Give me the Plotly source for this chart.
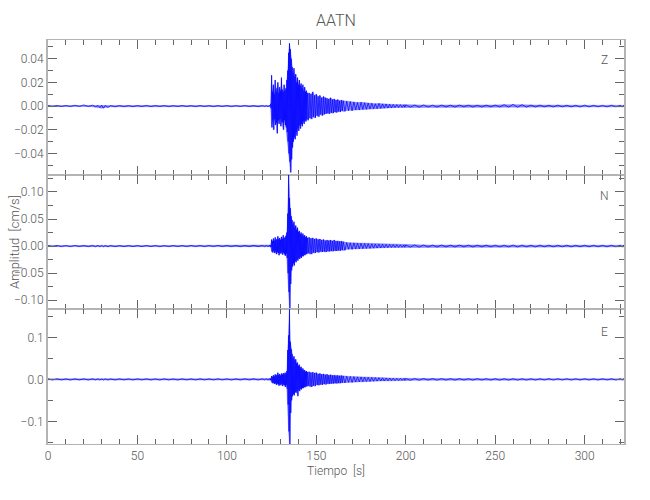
import plotly.graph_objects as go
from plotly.subplots import make_subplots

# ---- time knots (s) ----
t_pre = [0, 5, 10, 15, 20, 25, 28, 30, 32, 35, 40, 45, 50, 55, 60, 65, 70, 75, 80, 85,
         90, 95, 100, 105, 110, 115, 120, 122, 124]
t_event = [124.5, 125, 125.5, 126, 126.5, 127, 127.5, 128, 128.5, 129, 129.5, 130, 130.5,
           131, 131.5, 132, 132.5, 133, 133.5, 134, 134.5, 135, 135.5, 136, 136.5, 137,
           137.5, 138, 138.5, 139, 139.5, 140, 140.5, 141, 141.5, 142, 142.5, 143, 143.5,
           144, 144.5, 145]
t_mid = [146, 147, 148, 149, 150, 151, 152, 153, 154, 155, 156, 157, 158, 159, 160, 161,
         162, 163, 164, 165]
t_late = [167, 169, 171, 173, 175, 177, 179, 181, 183, 185, 187, 189, 191, 193, 195, 197, 199]
t_tail = [200, 205, 210, 215, 220, 225, 230, 235, 240, 245, 250, 255, 260, 265, 270, 275,
          280, 285, 290, 295, 300, 305, 310, 315, 320, 322]

# ---- Z component envelope (cm/s): upper / lower peaks per knot ----
z_up_pre = [.0004, .0004, .0005, .0007, .001, .0008, .0005, .0008, .0006, .0004, .0005, .0004,
            .0005, .0006, .0005, .0005, .0004, .0005, .0004, .0005, .0004, .0004, .0005, .0004,
            .0005, .0004, .0005, .0004, .0005]
z_lo_pre = [-.0004, -.0004, -.0004, -.0003, -.0003, -.0006, -.0012, -.0018, -.0012, -.0006,
            -.0005, -.0005, -.0004, -.0005, -.0004, -.0005, -.0004, -.0004, -.0005, -.0004,
            -.0005, -.0004, -.0005, -.0004, -.0004, -.0005, -.0004, -.0005, -.0004]
z_up_event = [.002, .026, .012, .018, .010, .022, .012, .015, .020, .011, .016, .013, .024,
              .014, .012, .018, .013, .015, .022, .030, .045, .053, .048, .040, .033, .028,
              .032, .025, .027, .020, .024, .018, .022, .017, .019, .015, .018, .013, .016,
              .012, .013, .011]
z_lo_event = [-.002, -.018, -.012, -.020, -.011, -.016, -.014, -.023, -.012, -.015, -.011,
              -.017, -.013, -.014, -.020, -.012, -.016, -.018, -.022, -.030, -.040, -.047,
              -.056, -.045, -.035, -.030, -.026, -.028, -.022, -.025, -.019, -.021, -.016,
              -.019, -.015, -.017, -.013, -.015, -.012, -.013, -.011, -.012]
z_up_mid = [.011, .010, .012, .009, .010, .008, .009, .007, .008, .007, .0065, .006, .007,
            .0055, .006, .005, .0055, .0045, .005, .0045]
z_lo_mid = [-.010, -.011, -.009, -.010, -.008, -.009, -.007, -.008, -.007, -.0065, -.006,
            -.0065, -.0055, -.006, -.005, -.0055, -.0045, -.005, -.004, -.0045]
z_up_late = [.004, .0038, .0035, .003, .0032, .0028, .0025, .0024, .002, .0022, .0018, .0017,
             .0015, .0014, .0013, .0012, .0011]
z_lo_late = [-.0038, -.004, -.0032, -.0033, -.0028, -.0027, -.0024, -.0022, -.0021, -.0019,
             -.0017, -.0016, -.0015, -.0013, -.0012, -.0011, -.001]
z_up_tail = [.001, .0009, .001, .0008, .0009, .0008, .0009, .0008, .0007, .0008, .0009, .0012,
             .0015, .0012, .0009, .0008, .0007, .0008, .0007, .0007, .0008, .0007, .0006,
             .0007, .0006, .0006]
z_lo_tail = [-.0009, -.001, -.0008, -.0009, -.0008, -.0009, -.0007, -.0008, -.0008, -.0007,
             -.0008, -.0009, -.0010, -.0009, -.0008, -.0007, -.0008, -.0007, -.0007, -.0008,
             -.0007, -.0006, -.0007, -.0006, -.0006, -.0006]

# ---- N component ----
n_up_pre = [.001, .0011, .001, .0012, .0013, .0012, .0014, .0016, .0013, .0011, .001, .0011,
            .001, .0012, .0011, .001, .0011, .001, .0012, .0011, .001, .0011, .0012, .0011,
            .001, .0012, .0011, .0012, .0013]
n_lo_pre = [-.001, -.0011, -.0012, -.001, -.0011, -.0013, -.0015, -.0017, -.0014, -.0012,
            -.0011, -.001, -.0011, -.001, -.0012, -.0011, -.001, -.0011, -.001, -.0012,
            -.0011, -.001, -.0011, -.0012, -.0011, -.001, -.0012, -.0011, -.0012]
n_up_event = [.002, .012, .009, .014, .010, .016, .011, .013, .018, .012, .015, .011, .017,
              .013, .020, .014, .016, .019, .025, .060, .132, .089, .070, .055, .048, .040,
              .045, .035, .038, .030, .034, .026, .028, .022, .025, .020, .023, .018, .020,
              .016, .018, .015]
n_lo_event = [-.002, -.010, -.012, -.009, -.013, -.010, -.015, -.011, -.013, -.017, -.012,
              -.014, -.011, -.016, -.012, -.015, -.018, -.014, -.022, -.050, -.085, -.117,
              -.070, -.045, -.038, -.032, -.036, -.028, -.030, -.025, -.027, -.022, -.024,
              -.020, -.022, -.018, -.019, -.016, -.017, -.014, -.015, -.013]
n_up_mid = [.016, .014, .015, .013, .014, .012, .013, .011, .012, .010, .011, .010, .011,
            .0095, .011, .009, .0095, .0085, .009, .008]
n_lo_mid = [-.014, -.015, -.012, -.013, -.011, -.012, -.010, -.011, -.010, -.011, -.0095,
            -.010, -.009, -.0095, -.0085, -.009, -.008, -.0085, -.0075, -.008]
n_up_late = [.0065, .006, .0058, .0055, .005, .0048, .0045, .004, .0038, .0035, .0033, .003,
             .0028, .0026, .0025, .0023, .0022]
n_lo_late = [-.006, -.0062, -.0055, -.0052, -.0049, -.0045, -.0043, -.0039, -.0036, -.0034,
             -.0031, -.0029, -.0027, -.0025, -.0024, -.0022, -.0021]
n_up_tail = [.002, .0019, .0021, .0018, .002, .0017, .0019, .0018, .0017, .0018, .0017, .0016,
             .0019, .0017, .0016, .0017, .0016, .0015, .0016, .0015, .0016, .0015, .0014,
             .0015, .0014, .0014]
n_lo_tail = [-.0019, -.002, -.0018, -.0019, -.0017, -.0018, -.0017, -.0018, -.0016, -.0017,
             -.0016, -.0017, -.0018, -.0016, -.0017, -.0015, -.0016, -.0015, -.0016, -.0014,
             -.0015, -.0014, -.0015, -.0014, -.0014, -.0014]

# ---- E component ----
e_up_pre = [.0014, .0015, .0013, .0015, .0014, .0016, .0015, .0014, .0015, .0013, .0015,
            .0014, .0015, .0016, .0014, .0015, .0013, .0015, .0014, .0015, .0014, .0016,
            .0015, .0014, .0015, .0014, .0016, .0015, .0016]
e_lo_pre = [-.0015, -.0014, -.0015, -.0013, -.0015, -.0014, -.0016, -.0015, -.0014, -.0015,
            -.0013, -.0015, -.0014, -.0015, -.0016, -.0014, -.0015, -.0014, -.0015, -.0013,
            -.0015, -.0014, -.0016, -.0015, -.0014, -.0015, -.0014, -.0015, -.0016]
e_up_event = [.002, .008, .006, .010, .007, .012, .009, .011, .016, .010, .013, .009, .014,
              .011, .015, .012, .016, .014, .020, .070, .105, .167, .090, .072, .060, .050,
              .055, .045, .048, .038, .040, .032, .035, .028, .030, .024, .026, .021, .022,
              .018, .020, .017]
e_lo_event = [-.002, -.007, -.009, -.008, -.011, -.009, -.013, -.010, -.012, -.015, -.011,
              -.014, -.010, -.016, -.012, -.014, -.018, -.013, -.022, -.060, -.124, -.154,
              -.080, -.050, -.040, -.035, -.038, -.030, -.032, -.027, -.040, -.025, -.028,
              -.022, -.024, -.020, -.021, -.018, -.019, -.016, -.017, -.015]
e_up_mid = [.018, .016, .017, .015, .016, .013, .014, .012, .013, .011, .012, .010, .011,
            .0095, .010, .009, .0095, .0085, .009, .008]
e_lo_mid = [-.016, -.018, -.015, -.016, -.013, -.014, -.012, -.013, -.011, -.012, -.010,
            -.011, -.0095, -.010, -.009, -.0095, -.0085, -.009, -.008, -.0085]
e_up_late = [.0075, .007, .0065, .006, .0058, .0054, .005, .0047, .0044, .004, .0038, .0035,
             .0033, .003, .0028, .0026, .0025]
e_lo_late = [-.007, -.0072, -.0062, -.0058, -.0055, -.005, -.0048, -.0044, -.0041, -.0038,
             -.0036, -.0033, -.0031, -.0029, -.0027, -.0025, -.0024]
e_up_tail = [.0022, .002, .0021, .0019, .002, .0018, .0019, .0018, .002, .0018, .0019, .0018,
             .0019, .0017, .0018, .0017, .0018, .0017, .0018, .0016, .0017, .0016, .0017,
             .0016, .0016, .0016]
e_lo_tail = [-.0021, -.0022, -.0019, -.002, -.0018, -.0019, -.0018, -.0019, -.0017, -.0018,
             -.0019, -.0017, -.0018, -.0017, -.0018, -.0016, -.0017, -.0016, -.0017, -.0016,
             -.0016, -.0017, -.0015, -.0016, -.0016, -.0015]

components = ["Z", "N", "E"]
y_ranges = [[-0.0579, 0.0558], [-0.117, 0.132], [-0.154, 0.167]]
y_dticks = [0.02, 0.05, 0.1]
y_minor = [0.01, 0.025, 0.05]
y_formats = [".2f", ".2f", ".1f"]
x_range = [0, 322]

T = t_pre + t_event + t_mid + t_late + t_tail
env = {
    "Z": (z_up_pre + z_up_event + z_up_mid + z_up_late + z_up_tail,
          z_lo_pre + z_lo_event + z_lo_mid + z_lo_late + z_lo_tail),
    "N": (n_up_pre + n_up_event + n_up_mid + n_up_late + n_up_tail,
          n_lo_pre + n_lo_event + n_lo_mid + n_lo_late + n_lo_tail),
    "E": (e_up_pre + e_up_event + e_up_mid + e_up_late + e_up_tail,
          e_lo_pre + e_lo_event + e_lo_mid + e_lo_late + e_lo_tail),
}


def zigzag(t, up, lo):
    xs, ys = [], []
    for i in range(len(t)):
        nxt = t[i + 1] if i + 1 < len(t) else t[i]
        xs += [t[i], (t[i] + nxt) / 2]
        ys += [up[i], lo[i]]
    return xs, ys


FONT = "Roboto, Lato, sans-serif"
TXT = "#555555"
FRAME = "#b4b4b4"
TICK = "#666666"
BLUE = "#0000ff"

fig = make_subplots(rows=3, cols=1, shared_xaxes=True, vertical_spacing=0)

for r, comp in enumerate(components, start=1):
    up, lo = env[comp]
    # envelope band
    fig.add_trace(go.Scatter(x=T + T[::-1], y=up + lo[::-1], mode="lines",
                             fill="toself", fillcolor="rgba(40,40,255,0.55)",
                             line=dict(color="rgba(0,0,255,0.45)", width=0.5),
                             showlegend=False, hoverinfo="skip"), row=r, col=1)
    # oscillation between the peaks
    xs, ys = zigzag(T, up, lo)
    fig.add_trace(go.Scatter(x=xs, y=ys, mode="lines",
                             line=dict(color=BLUE, width=0.7),
                             showlegend=False, hoverinfo="skip"), row=r, col=1)
    fig.update_yaxes(range=y_ranges[r - 1], dtick=y_dticks[r - 1], tick0=0,
                     tickformat=y_formats[r - 1], automargin=False,
                     ticks="inside", ticklen=9, tickwidth=1, tickcolor=TICK,
                     minor=dict(dtick=y_minor[r - 1], tick0=0, ticks="inside",
                                ticklen=5, tickcolor=TICK, showgrid=False),
                     showline=True, linecolor=FRAME, linewidth=2, mirror="ticks",
                     showgrid=False, zeroline=False,
                     tickfont=dict(family=FONT, size=12, color=TXT, weight=300),
                     row=r, col=1)
    fig.update_xaxes(range=x_range, dtick=50, tick0=0, automargin=False,
                     ticks="inside", ticklen=9, tickwidth=1, tickcolor=TICK,
                     minor=dict(dtick=10, tick0=0, ticks="inside", ticklen=5,
                                tickcolor=TICK, showgrid=False),
                     showline=True, linecolor=FRAME, linewidth=1.3, mirror="ticks",
                     showgrid=False, zeroline=False,
                     tickfont=dict(family=FONT, size=12, color=TXT, weight=300),
                     row=r, col=1)

fig.update_xaxes(title=dict(text="Tiempo  [s]",
                            font=dict(family=FONT, size=12, color=TXT, weight=300),
                            standoff=5), row=3, col=1)

label_y = [0.950, 0.614, 0.277]
for comp, ly in zip(components, label_y):
    fig.add_annotation(text=comp, x=0.967, y=ly, xref="paper", yref="paper",
                       xanchor="center", yanchor="middle", showarrow=False,
                       font=dict(family=FONT, size=12, color=TXT, weight=300))

fig.add_annotation(text="Amplitud  [cm/s]", x=-0.059, y=0.5, xref="paper", yref="paper",
                   xanchor="center", yanchor="middle",
                   textangle=-90, showarrow=False,
                   font=dict(family=FONT, size=13, color=TXT, weight=300))

fig.update_layout(
    width=650, height=500,
    margin=dict(l=48, r=26, t=40, b=56),
    paper_bgcolor="white", plot_bgcolor="white",
    title=dict(text="AATN", x=0.5, xref="paper", y=0.96, yanchor="middle",
               font=dict(family=FONT, size=16, color=TXT, weight=300)),
)

fig.write_html("out.html", config={"displayModeBar": False},
               post_script="document.body.style.margin='0';")
